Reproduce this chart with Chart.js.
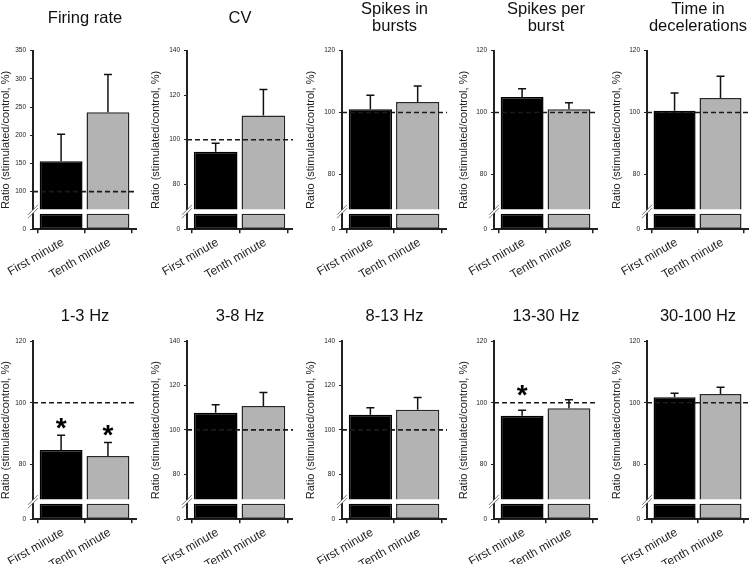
<!DOCTYPE html>
<html><head><meta charset="utf-8">
<script src="https://cdn.jsdelivr.net/npm/chart.js@4/dist/chart.umd.min.js"></script>
<style>
html,body{margin:0;padding:0;background:#fff;}
#wrap{position:relative;width:750px;height:564px;overflow:hidden;background:#fff;}
.cell{position:absolute;}
.cell canvas{display:block;}
</style></head><body><div id="wrap"></div>
<script>
// ---------------- data ----------------
const categories = ['First minute', 'Tenth minute'];
const panelTitles = [['Firing rate'], ['CV'], ['Spikes in', 'bursts'], ['Spikes per', 'burst'], ['Time in', 'decelerations'],
                     ['1-3 Hz'], ['3-8 Hz'], ['8-13 Hz'], ['13-30 Hz'], ['30-100 Hz']];
const firstMinute    = [154, 94.6, 101.1, 105.0, 100.6, 84.7, 107.7, 106.8, 95.8, 101.8];
const tenthMinute    = [241, 110.9, 103.4, 101.1, 104.7, 82.7, 110.7, 109.0, 98.2, 102.8];
const firstMinuteErr = [48, 3.8, 4.5, 2.7, 5.7, 4.8, 3.6, 3.1, 1.8, 1.3];
const tenthMinuteErr = [67, 11.7, 5.2, 2.1, 7.0, 4.4, 6.1, 5.6, 2.8, 2.2];
// asterisk (significance) positions, in axis units; null = none
const firstMinuteStar = [null, null, null, null, null, 94.3, null, null, 105.0, null];
const tenthMinuteStar = [null, null, null, null, null, 92.1, null, null, null, null];
const axisMax   = [350, 140, 120, 120, 120, 120, 140, 140, 120, 120];
const tickSets  = [[100, 150, 200, 250, 300, 350], [80, 100, 120, 140], [80, 100, 120], [80, 100, 120], [80, 100, 120],
                   [80, 100, 120], [80, 100, 120, 140], [80, 100, 120, 140], [80, 100, 120], [80, 100, 120]];
const lowerTicks = [0];
const referenceLevel = 100;
const breakUpper = 68.7;   // value where upper axis segment starts
const breakLower = 10;     // value at top of lower axis segment
const lowerAxisMax = 12.8;
const xRange = [-0.6, 1.62];
const yTitleText = 'Ratio (stimulated/control, %)';

// ---------------- layout / style ----------------
const FONT = "'Liberation Sans', Arial, Helvetica, sans-serif";
const colAxisLeft  = [33, 187, 342, 494, 647];
const colAxisRight = [137, 293, 447, 598, 749];
const yBlockWidth  = [33, 37, 37, 36, 36];
const yTitleWidth  = 11;
const rowTop = [0, 290], rowHeight = [290, 274];
const chartTopRel = [50.7, 51], chartBottomRel = [229.3, 229.3];
const titleCenterRel = [18.2, 26.7];
const titleSize = 16.5, titleLH = 1.0;
const upperWeight = 158.6, lowerWeight = 20;
const barColors = ['#000000', '#b3b3b3'];
const barBorders = ['#000000', '#262626'];
const inkColor = '#222222';

Chart.defaults.font.family = FONT;

const wrap = document.getElementById('wrap');

function makePanel(p) {
  const row = p < 5 ? 0 : 1, col = p % 5;
  const left = colAxisLeft[col] - yBlockWidth[col];
  const width = colAxisRight[col] - left;
  const top = rowTop[row], height = rowHeight[row];
  const div = document.createElement('div');
  div.className = 'cell';
  div.style.left = left + 'px'; div.style.top = top + 'px';
  div.style.width = width + 'px'; div.style.height = height + 'px';
  const canvas = document.createElement('canvas');
  div.appendChild(canvas); wrap.appendChild(div);

  const lines = panelTitles[p].length;
  const lh = titleSize * titleLH;
  const pt = titleCenterRel[row] - lines * lh / 2;
  const pb = chartTopRel[row] - lines * lh - pt;
  const xAxisHeight = height - chartBottomRel[row];

  const vals = [firstMinute[p], tenthMinute[p]];
  const errs = [firstMinuteErr[p], tenthMinuteErr[p]];
  const stars = [firstMinuteStar[p], tenthMinuteStar[p]];

  const overlay = {
    id: 'overlay' + p,
    afterDatasetsDraw(chart) {
      const {ctx, chartArea, scales} = chart;
      const ys = scales.y;
      ctx.save();
      // reference dashed line
      ctx.strokeStyle = '#1a1a1a'; ctx.lineWidth = 1.6; ctx.setLineDash([5, 3]);
      const yr = ys.getPixelForValue(referenceLevel);
      ctx.beginPath(); ctx.moveTo(chartArea.left, yr); ctx.lineTo(chartArea.right, yr); ctx.stroke();
      ctx.setLineDash([]);
      // error bars (upper only)
      const meta = chart.getDatasetMeta(0);
      meta.data.forEach((bar, i) => {
        const y0 = ys.getPixelForValue(vals[i]);
        const y1 = ys.getPixelForValue(vals[i] + errs[i]);
        ctx.strokeStyle = '#111'; ctx.lineWidth = 1.5;
        ctx.beginPath();
        ctx.moveTo(bar.x, y0); ctx.lineTo(bar.x, y1);
        ctx.moveTo(bar.x - 4, y1); ctx.lineTo(bar.x + 4, y1);
        ctx.stroke();
        if (stars[i] != null) {
          const size = 28;
          ctx.fillStyle = '#000';
          ctx.font = 'bold ' + size + 'px ' + FONT;
          ctx.textAlign = 'center'; ctx.textBaseline = 'alphabetic';
          ctx.fillText('*', bar.x, ys.getPixelForValue(stars[i]) + 0.6 * size);
        }
      });
      ctx.restore();
    },
    afterDraw(chart) {
      const {ctx, scales} = chart;
      const ys = scales.y, yl = scales.yLow;
      const ax = chart.chartArea.left;
      const g0 = ys.bottom, g1 = yl.getPixelForValue(breakLower);
      ctx.save();
      ctx.fillStyle = '#fff';
      ctx.fillRect(ax - 3, g0 + 0.8, 6, g1 - g0 - 1.6);
      ctx.strokeStyle = '#777'; ctx.lineWidth = 1;
      [g0 + 0.5, g1 - 0.5].forEach(yy => {
        ctx.beginPath(); ctx.moveTo(ax - 5, yy + 5); ctx.lineTo(ax + 5, yy - 5); ctx.stroke();
      });
      ctx.restore();
    }
  };

  const yCommon = {
    type: 'linear', position: 'left', stack: 'brk',
    grid: {drawOnChartArea: false, drawTicks: true, tickLength: 3, color: inkColor, lineWidth: 1},
    border: {display: true, color: inkColor, width: 2},
    ticks: {font: {size: 6.5}, color: '#222', padding: 4, autoSkip: false},
  };
  const barStyle = {backgroundColor: barColors, borderColor: barBorders, borderWidth: 1.5,
                    borderSkipped: false, grouped: false, barPercentage: 0.915, categoryPercentage: 1.0};

  new Chart(canvas, {
    type: 'bar',
    data: {
      datasets: [
        Object.assign({data: categories.map((c, i) => ({x: i, y: vals[i]})), yAxisID: 'y'}, barStyle),
        Object.assign({data: categories.map((c, i) => ({x: i, y: Math.min(vals[i], breakLower)})), yAxisID: 'yLow'}, barStyle)
      ]
    },
    options: {
      responsive: true, maintainAspectRatio: false, animation: false, events: [],
      layout: {padding: 0},
      plugins: {
        legend: {display: false}, tooltip: {enabled: false},
        title: {display: true, text: panelTitles[p], fullSize: false, color: '#111',
                font: {size: titleSize, weight: 'normal', lineHeight: titleLH},
                padding: {top: pt, bottom: pb}}
      },
      scales: {
        x: {
          type: 'linear', position: 'bottom', offset: false, min: xRange[0], max: xRange[1],
          afterBuildTicks(s) { s.ticks = categories.map((c, i) => ({value: i})); },
          grid: {display: true, drawOnChartArea: false, drawTicks: true, tickLength: 4, color: inkColor, lineWidth: 1.5},
          border: {display: true, color: inkColor, width: 2},
          ticks: {font: {size: 12}, color: '#222', maxRotation: 30, minRotation: 30, padding: 2, labelOffset: 2,
                  autoSkip: false, callback: (v) => categories[v]},
          afterFit(s) { s.height = xAxisHeight; s.paddingLeft = 0; s.paddingRight = 0; }
        },
        yTitle: {
          type: 'linear', position: 'left', weight: 3,
          grid: {display: false}, border: {display: false}, ticks: {display: false},
          title: {display: true, text: yTitleText, color: '#222', font: {size: 11, lineHeight: 1}, padding: 0},
          afterFit(s) { s.width = yTitleWidth; }
        },
        y: Object.assign({}, yCommon, {
          weight: 2, stackWeight: upperWeight, min: breakUpper, max: axisMax[p],
          afterBuildTicks(s) { s.ticks = tickSets[p].map(v => ({value: v})); },
          afterFit(s) { s.width = yBlockWidth[col] - yTitleWidth; }
        }),
        yLow: Object.assign({}, yCommon, {
          weight: 1, stackWeight: lowerWeight, min: 0, max: lowerAxisMax,
          afterBuildTicks(s) { s.ticks = lowerTicks.map(v => ({value: v})); },
          afterFit(s) { s.width = yBlockWidth[col] - yTitleWidth; }
        })
      }
    },
    plugins: [overlay]
  });
}

for (let p = 0; p < 10; p++) makePanel(p);
</script>
</body></html>
